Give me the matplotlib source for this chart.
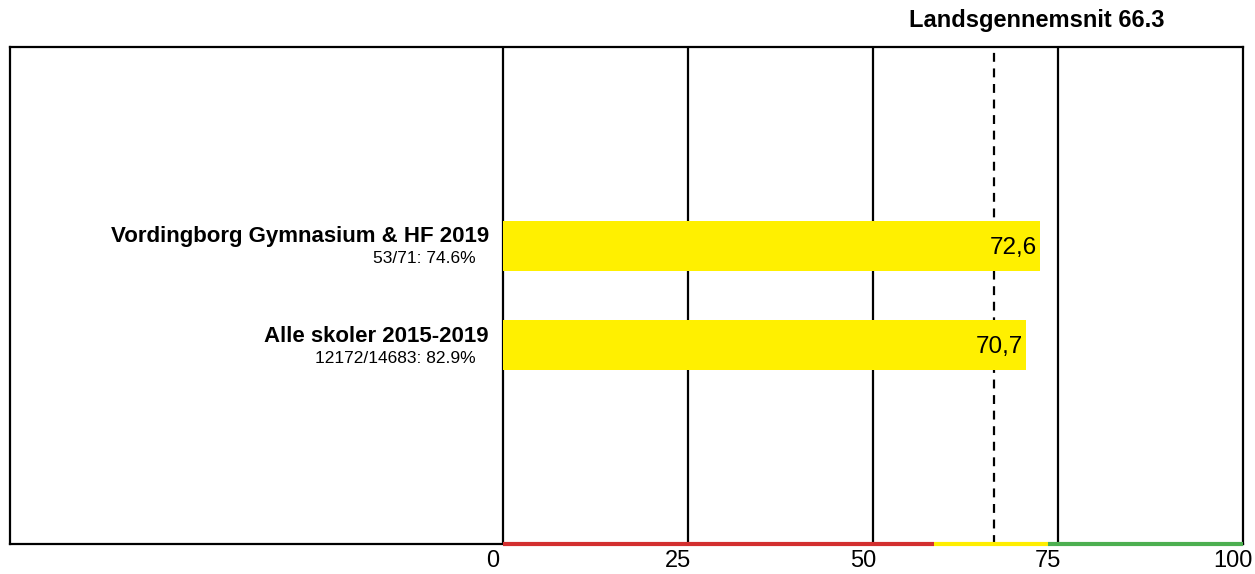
import matplotlib.pyplot as plt
from matplotlib.transforms import ScaledTranslation

plt.rcParams['font.family'] = ['Liberation Sans', 'DejaVu Sans']

### DATA

schools = ["Vordingborg Gymnasium & HF 2019", "Alle skoler 2015-2019"]
subtitles = ["53/71: 74.6%", "12172/14683: 82.9%"]
scores = [72.6, 70.7]
national_avg = 66.3
tick_values = [0, 25, 50, 75, 100]
# coloured zones along the bottom edge (start, end, colour)
zone_edges = [0, 58.2, 73.7, 100]
zone_colors = ["#d32f2f", "#ffee00", "#4caf50"]

### PLOT

fig = plt.figure(figsize=(12.55, 5.74), dpi=100)
W, H = 1255, 574
ax = fig.add_axes([10 / W, 30 / H, (1243 - 10) / W, (544 - 47) / H])

x_left = -493 / 7.4
ax.set_xlim(x_left, 100)
ax.set_ylim(3, -2)

for s in ax.spines.values():
    s.set_linewidth(1.6)
    s.set_color("black")

# vertical grid lines
for v in tick_values[:-1]:
    ax.axvline(v, color="black", lw=1.6, zorder=1)
ax.axvline(national_avg, color="black", lw=1.6, ls=(0, (4, 3)), zorder=1)

ypos = list(range(len(schools)))
ax.barh(ypos, scores, height=0.5, color="#fff000", zorder=2)

for y, name, sub, val in zip(ypos, schools, subtitles, scores):
    ax.text(-1.9, y - 0.09, name, ha="right", va="center", fontsize=16,
            fontweight="bold")
    ax.text(-3.65, y + 0.13, sub, ha="right", va="center", fontsize=12.5)
    ax.text(val - 0.4, y + 0.02, f"{val:.1f}".replace(".", ","), ha="right",
            va="center", fontsize=17.5, zorder=3)

# coloured zone line at the bottom
for a, b, c in zip(zone_edges[:-1], zone_edges[1:], zone_colors):
    ax.plot([a, b], [3, 3], color=c, lw=3, solid_capstyle="butt",
            clip_on=False, zorder=4)

ax.set_yticks([])
ax.set_xticks(tick_values)
ax.set_xticklabels([str(v) for v in tick_values], fontsize=17)
ax.tick_params(axis="x", length=0, pad=4)
offset = ScaledTranslation(-10 / 100, 0, fig.dpi_scale_trans)
for lbl in ax.get_xticklabels():
    lbl.set_transform(lbl.get_transform() + offset)

fig.text(1037 / W, 1 - 21 / H, f"Landsgennemsnit {national_avg}", ha="center",
         va="center", fontsize=17, fontweight="bold")

fig.savefig("out.png", dpi=100)
